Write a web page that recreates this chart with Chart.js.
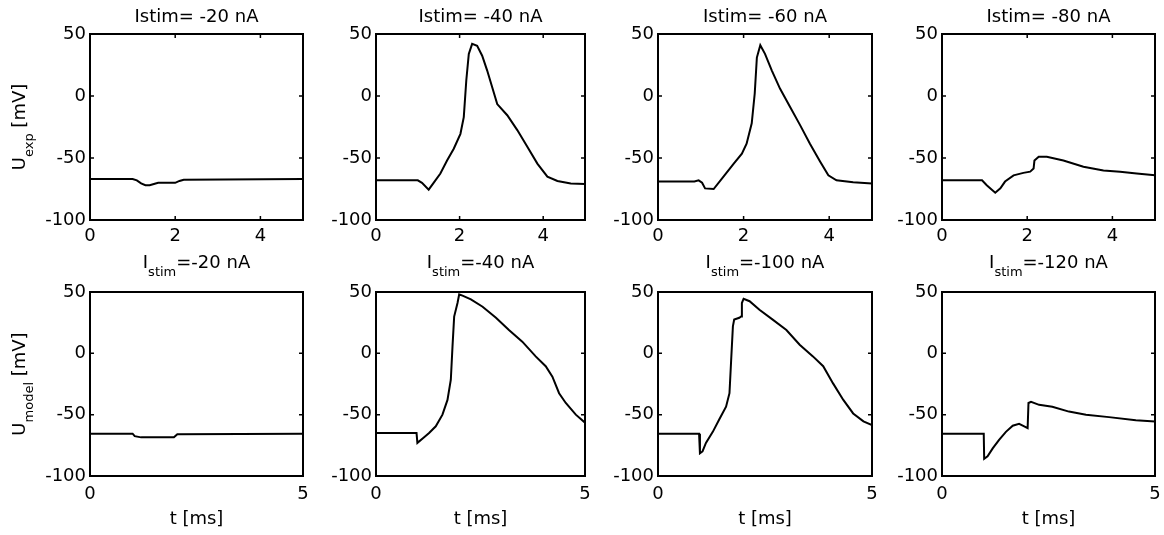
<!DOCTYPE html>
<html lang="en">
<head>
  <meta charset="UTF-8">
  <title>Istim panels</title>
  <script src="https://cdn.jsdelivr.net/npm/chart.js"></script>
  <style>
    html, body { margin: 0; padding: 0; background: #fff; overflow: hidden; }
    #wrap { position: relative; width: 1164px; height: 535px; overflow: hidden; }
    #wrap canvas { position: absolute; }
  </style>
</head>
<body>
<div id="wrap"></div>
<script>
  // t in ms, U in mV

  // experiment, Istim = -20 / -40 / -60 / -80 nA
  const expT20 = [0, 1.0, 1.1, 1.2, 1.3, 1.4, 1.5, 1.6, 2.0, 2.1, 2.2, 5];
  const expU20 = [-67, -67, -68, -70.5, -72, -72, -71, -70, -70, -68.5, -67.5, -67];

  const expT40 = [0, 1.0, 1.1, 1.26, 1.4, 1.54, 1.7, 1.86, 2.02, 2.1, 2.16, 2.22, 2.3, 2.42, 2.54, 2.66, 2.78, 2.9, 3.14, 3.38, 3.62, 3.86, 4.1, 4.34, 4.66, 5];
  const expU40 = [-68, -68, -70, -75.5, -69, -62.5, -52, -42.5, -30.5, -17, 12.5, 34, 42, 40.5, 32.5, 20.5, 7, -6.5, -15.5, -27.5, -41, -54.5, -65, -68.5, -70.5, -71];

  const expT60 = [0, 0.85, 0.95, 1.03, 1.1, 1.3, 1.53, 1.77, 1.96, 2.07, 2.19, 2.26, 2.31, 2.39, 2.5, 2.66, 2.85, 3.09, 3.32, 3.55, 3.79, 3.98, 4.17, 4.56, 5];
  const expU60 = [-69, -69, -68, -70, -74.5, -75, -65, -54.5, -46.5, -38.5, -22, 2, 31, 41, 34, 20.5, 6, -9, -23.5, -38.5, -53, -64, -68, -69.5, -70.5];

  const expT80 = [0, 0.94, 1.05, 1.25, 1.37, 1.48, 1.68, 1.91, 2.07, 2.15, 2.17, 2.27, 2.46, 2.85, 3.32, 3.79, 4.18, 4.57, 5];
  const expU80 = [-68, -68, -72, -78, -74.5, -69, -64, -62, -61, -58.5, -52, -49, -49, -52, -57, -60, -61, -62.5, -64];

  // model, Istim = -20 / -40 / -100 / -120 nA
  const modT20 = [0, 1.0, 1.05, 1.2, 1.97, 2.05, 5];
  const modU20 = [-65.5, -65.5, -67.5, -68.5, -68.5, -66, -65.5];

  const modT40 = [0, 0.97, 0.99, 1.13, 1.27, 1.43, 1.59, 1.71, 1.79, 1.83, 1.87, 1.95, 1.99, 2.07, 2.27, 2.55, 2.87, 3.18, 3.5, 3.82, 4.06, 4.22, 4.38, 4.54, 4.78, 5];
  const modU40 = [-65, -65, -73, -69, -65, -59.5, -50, -38, -21.5, 5.5, 30, 41, 48, 47, 44, 38, 29, 19, 9.5, -2.5, -10.5, -19, -32.5, -40.5, -50, -56.5];

  const modT100 = [0, 0.96, 0.98, 1.04, 1.12, 1.28, 1.43, 1.59, 1.67, 1.71, 1.75, 1.78, 1.9, 1.94, 1.96, 2.0, 2.14, 2.37, 2.68, 3.0, 3.31, 3.62, 3.86, 4.09, 4.33, 4.56, 4.8, 5];
  const modU100 = [-65.5, -65.5, -81.5, -80, -73, -64, -54, -43.5, -32.5, -5, 22, 27.5, 29, 30, 41, 44.5, 42.5, 35.5, 27.5, 19, 7, -2.5, -10.5, -24.5, -38, -49, -55.5, -58.5];

  const modT120 = [0, 0.98, 0.99, 1.07, 1.19, 1.34, 1.5, 1.66, 1.81, 1.93, 2.01, 2.03, 2.09, 2.28, 2.59, 2.98, 3.38, 3.92, 4.55, 5];
  const modU120 = [-65.5, -65.5, -86, -84, -77.5, -70.5, -64, -59, -57.5, -59.5, -61, -40.5, -39.5, -42, -43.5, -47.5, -50, -52, -54.5, -55.5];

  const expTitles = ['Istim= -20 nA', 'Istim= -40 nA', 'Istim= -60 nA', 'Istim= -80 nA'];
  const modTitles = ['=-20 nA', '=-40 nA', '=-100 nA', '=-120 nA'];
  const xTicksExp = [0, 2, 4];
  const xTicksMod = [0, 5];
  const yTicks = [-100, -50, 0, 50];

  const MAIN = '18px "DejaVu Sans", sans-serif';
  const SUB = '13px "DejaVu Sans", sans-serif';
  Chart.defaults.font.family = '"DejaVu Sans", sans-serif';
  Chart.defaults.font.size = 18;
  Chart.defaults.color = '#000';

  // pieces = [[text, isSubscript], ...], centred on cx
  function drawPieces(ctx, pieces, cx, y) {
    let total = 0;
    pieces.forEach(p => { ctx.font = p[1] ? SUB : MAIN; total += ctx.measureText(p[0]).width; });
    let x = cx - total / 2;
    pieces.forEach(p => {
      ctx.font = p[1] ? SUB : MAIN;
      ctx.fillText(p[0], x, y + (p[1] ? 8 : 0));
      x += ctx.measureText(p[0]).width;
    });
  }

  // box, inward ticks, titles and axis labels (matlab style)
  const frame = {
    id: 'frame',
    afterDraw(chart, args, o) {
      const { ctx, chartArea: a, scales } = chart;
      ctx.save();
      ctx.strokeStyle = '#000';
      ctx.lineWidth = 1.5;
      ctx.beginPath();
      scales.x.ticks.forEach(t => {
        const px = scales.x.getPixelForValue(t.value);
        ctx.moveTo(px, a.bottom); ctx.lineTo(px, a.bottom - 4);
        ctx.moveTo(px, a.top); ctx.lineTo(px, a.top + 4);
      });
      scales.y.ticks.forEach(t => {
        const py = scales.y.getPixelForValue(t.value);
        ctx.moveTo(a.left, py); ctx.lineTo(a.left + 4, py);
        ctx.moveTo(a.right, py); ctx.lineTo(a.right - 4, py);
      });
      ctx.stroke();
      ctx.lineWidth = 2;
      ctx.strokeRect(a.left, a.top, a.right - a.left, a.bottom - a.top);

      ctx.fillStyle = '#000';
      ctx.textAlign = 'left';
      ctx.textBaseline = 'alphabetic';
      const cx = (a.left + a.right) / 2;
      drawPieces(ctx, o.title, cx, a.top - o.titleGap);
      if (o.xlabel) drawPieces(ctx, [[o.xlabel, false]], cx, a.bottom + 48);
      if (o.ylabel) {
        ctx.translate(25, (a.top + a.bottom) / 2);
        ctx.rotate(-Math.PI / 2);
        drawPieces(ctx, o.ylabel, 0, 0);
      }
      ctx.restore();
    }
  };

  const plotLeft = [90, 376, 658, 942];
  const plotRight = [303, 585, 872, 1155];
  const wrap = document.getElementById('wrap');

  function panel(col, row, t, u, xt, labels) {
    const axisW = col === 0 ? 90 : 75;
    const padR = 20;
    const top = row === 0 ? 0 : 240;
    const padT = row === 0 ? 34 : 52;
    const plotH = row === 0 ? 186 : 184;
    const xAxisH = row === 0 ? 30 : 59;
    const w = axisW + (plotRight[col] - plotLeft[col]) + padR;
    const h = padT + plotH + xAxisH;

    const c = document.createElement('canvas');
    c.width = w; c.height = h;
    c.style.left = (plotLeft[col] - axisW) + 'px';
    c.style.top = top + 'px';
    c.style.width = w + 'px';
    c.style.height = h + 'px';
    wrap.appendChild(c);

    new Chart(c, {
      type: 'scatter',
      data: {
        datasets: [{
          data: t.map((v, i) => ({ x: v, y: u[i] })),
          showLine: true,
          borderColor: '#000',
          borderWidth: 2,
          pointRadius: 0,
          tension: 0
        }]
      },
      options: {
        responsive: false,
        animation: false,
        devicePixelRatio: 1,
        layout: { padding: { left: 0, top: padT, right: padR, bottom: 0 }, autoPadding: false },
        plugins: { legend: { display: false }, tooltip: { enabled: false }, frame: labels },
        scales: {
          x: {
            type: 'linear', min: 0, max: 5,
            afterBuildTicks: s => { s.ticks = xt.map(v => ({ value: v })); },
            afterFit: s => { s.height = xAxisH; },
            grid: { display: false, drawTicks: false },
            border: { display: false },
            ticks: { padding: row === 0 ? 6 : 8, maxRotation: 0, autoSkip: false }
          },
          y: {
            min: -100, max: 50,
            afterBuildTicks: s => { s.ticks = yTicks.map(v => ({ value: v })); },
            afterFit: s => { s.width = axisW; },
            grid: { display: false, drawTicks: false },
            border: { display: false },
            ticks: { padding: 4, autoSkip: false }
          }
        }
      },
      plugins: [frame]
    });
  }

  const expData = [[expT20, expU20], [expT40, expU40], [expT60, expU60], [expT80, expU80]];
  const modData = [[modT20, modU20], [modT40, modU40], [modT100, modU100], [modT120, modU120]];

  expData.forEach((d, i) => panel(i, 0, d[0], d[1], xTicksExp, {
    title: [[expTitles[i], false]],
    titleGap: 12,
    ylabel: i === 0 ? [['U', false], ['exp', true], [' [mV]', false]] : null
  }));
  modData.forEach((d, i) => panel(i, 1, d[0], d[1], xTicksMod, {
    title: [['I', false], ['stim', true], [modTitles[i], false]],
    titleGap: 24,
    xlabel: 't [ms]',
    ylabel: i === 0 ? [['U', false], ['model', true], [' [mV]', false]] : null
  }));
</script>
</body>
</html>
